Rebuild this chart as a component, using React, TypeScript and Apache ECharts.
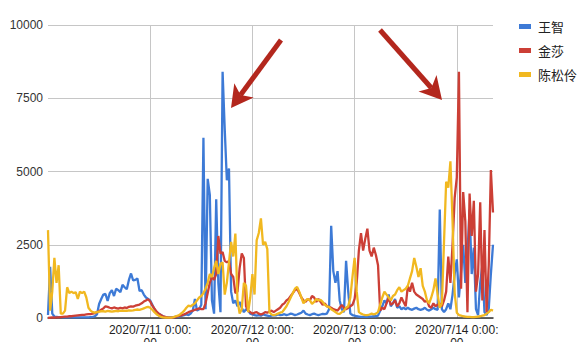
import React, { useEffect, useRef } from "react";
import * as echarts from "echarts";

// Series names (legend)
const seriesNames = ["王智", "金莎", "陈松伶"];
const seriesColors = ["#3d7ad6", "#cc3f36", "#f1b820"];

// Y axis ticks
const yTicks = [0, 2500, 5000, 7500, 10000];

// Values every 30 minutes from 2020/7/10 0:00:00
const wangZhi = [
  100, 1750, 150, 50, 40, 30, 30, 20, 20, 20,
  20, 20, 20, 20, 20, 20, 20, 20, 20, 20,
  30, 40, 60, 120, 480, 650, 800, 820, 580, 850,
  950, 750, 1000, 950, 880, 1130, 1050, 980, 1300, 1520,
  1280, 1300, 1350, 920, 950, 800, 700, 650, 600, 450,
  300, 200, 150, 100, 60, 30, 30, 20, 20, 30,
  40, 50, 60, 80, 100, 120, 100, 150, 250, 650,
  250, 300, 450, 6150, 300, 4750, 4200, 600, 150, 4050,
  1200, 200, 8400, 6450, 4700, 5100, 900, 500, 600, 400,
  550, 350, 200, 300, 250, 150, 120, 100, 80, 100,
  80, 120, 100, 80, 60, 80, 100, 90, 120, 100,
  110, 130, 100, 120, 150, 130, 100, 120, 150, 180,
  250, 150, 120, 100, 130, 150, 120, 100, 120, 140,
  130, 150, 300, 3150, 1600, 1200, 1600, 600, 300, 200,
  1950, 900, 150, 100, 80, 60, 50, 40, 40, 50,
  40, 50, 50, 60, 60, 80, 250, 400, 600, 500,
  800, 400, 500, 650, 350, 400, 300, 350, 300, 350,
  300, 280, 320, 350, 300, 280, 300, 350, 280, 250,
  300, 350, 300, 280, 3700, 300, 200, 300, 500, 300,
  800, 1500, 2000, 700, 1600, 2500, 1200, 2200, 3700, 1500,
  2400, 300, 100, 1200, 1800, 200, 100, 300, 1500, 2500,
];

const jinSha = [
  0, 10, 20, 10, 20, 20, 30, 40, 50, 50,
  60, 60, 70, 80, 90, 100, 110, 110, 120, 130,
  130, 150, 170, 200, 230, 280, 330, 400, 380, 350,
  330, 360, 340, 320, 350, 330, 360, 340, 380, 400,
  390, 420, 440, 460, 500, 560, 600, 640, 560, 420,
  320, 220, 150, 100, 60, 40, 20, 10, 10, 20,
  40, 60, 80, 100, 130, 160, 200, 230, 250, 280,
  300, 330, 300, 300, 500, 850, 1200, 1400, 1300, 1500,
  2800, 2200, 2250, 1950, 1900, 1950, 1500, 1400, 850, 900,
  1700, 2200, 2050, 400, 250, 200, 150, 180, 200, 150,
  120, 150, 200, 180, 220, 250, 200, 250, 300, 350,
  450, 500, 600, 650, 750, 850, 950, 1000, 850, 700,
  600, 550, 650, 600, 750, 700, 550, 650, 550, 450,
  500, 400, 380, 350, 300, 280, 250, 350, 450, 350,
  300, 350, 400, 450, 650, 1200, 2300, 2900, 2300, 2700,
  3050, 2300, 2100, 2400, 2150, 1800, 250, 350, 300, 500,
  700, 450, 500, 600, 400, 500, 700, 550, 400, 1100,
  900, 1200, 900, 800, 750, 700, 650, 550, 600, 400,
  350, 500, 400, 450, 500, 400, 600, 900, 2100, 1200,
  2500, 4100, 4800, 8400, 1000, 4300, 3300, 200, 4250, 2800,
  4000, 900, 1500, 3950, 600, 3000, 200, 1800, 5050, 3600,
];

const chenSongLing = [
  3000, 250, 900, 2050, 1200, 1800, 150, 150, 250, 1050,
  850, 900, 850, 880, 650, 900, 850, 900, 700, 350,
  250, 200, 180, 200, 220, 230, 230, 220, 240, 230,
  220, 230, 240, 230, 250, 240, 250, 240, 260, 250,
  260, 280, 290, 280, 300, 330, 360, 380, 350, 280,
  200, 130, 80, 40, 20, 10, 10, 10, 10, 30,
  60, 80, 120, 180, 250, 350, 420, 400, 450, 500,
  600, 700, 750, 850, 1000, 1200, 1500, 1400, 1700, 1950,
  1500, 1850, 1900, 800, 1200, 1900, 2600, 2100, 2880, 600,
  150, 300, 1200, 1100, 200, 700, 1500, 800, 2650, 2900,
  3400, 2500, 2600, 2350, 200, 120, 100, 120, 150, 180,
  200, 300, 400, 550, 700, 850, 1000, 1060, 900, 700,
  500, 600, 650, 600, 480, 550, 650, 600, 620, 550,
  450, 400, 370, 300, 250, 200, 150, 140, 200, 250,
  350, 400, 700, 1400, 2050, 900, 200, 150, 120, 100,
  100, 120, 150, 120, 150, 200, 450, 700, 900, 800,
  700, 600, 750, 800, 950, 1050, 900, 950, 1000, 1100,
  1350, 1600, 2050, 1750, 1400, 1700, 1100, 900, 600, 500,
  700, 950, 1350, 800, 350, 500, 2600, 4650, 4450, 5350,
  3300, 850, 180, 100, 80, 60, 50, 40, 40, 30,
  30, 40, 50, 60, 80, 100, 150, 200, 280, 250,
];

// Category labels: 30-minute steps from 2020/7/10 0:00:00
const startDay = 10;
const stepMinutes = 30;
const stepsPerDay = 48;
const categories = wangZhi.map((_, i) => {
  const t = i * stepMinutes;
  const day = startDay + Math.floor(t / 1440);
  const h = Math.floor((t % 1440) / 60);
  const m = t % 60;
  return `2020/7/${day} ${h}:${String(m).padStart(2, "0")}:00`;
});

const isDayStart = (idx: number) => idx > 0 && idx % stepsPerDay === 0;

const arrowColor = "#b3271d";

export default function App() {
  const ref = useRef<HTMLDivElement>(null);
  useEffect(() => {
    if (!ref.current) return;
    const chart = echarts.init(ref.current, null, { renderer: "svg" });
    const font = "Liberation Sans, Arial, sans-serif";
    chart.setOption({
      animation: false,
      backgroundColor: "#ffffff",
      grid: { left: 48, right: 85, top: 25, bottom: 24, containLabel: false, outerBoundsMode: "none" },
      legend: {
        orient: "vertical",
        left: 514,
        top: 15,
        icon: "rect",
        itemWidth: 12,
        itemHeight: 5,
        itemGap: 11,
        data: seriesNames,
        textStyle: { fontSize: 13, color: "#222", fontFamily: "Noto Sans CJK SC, sans-serif", padding: [0, 0, 0, 2] },
      },
      xAxis: {
        type: "category",
        data: categories,
        boundaryGap: false,
        axisLine: { show: true, lineStyle: { color: "#333", width: 1.5 } },
        axisTick: { show: false },
        axisLabel: {
          interval: (idx: number) => isDayStart(idx),
          formatter: (v: string) => v.replace(/:00$/, ":\n00"),
          fontSize: 12,
          lineHeight: 13,
          color: "#222",
          fontFamily: font,
          margin: 5,
        },
        splitLine: {
          show: true,
          interval: (idx: number) => isDayStart(idx),
          lineStyle: { color: "#c6c6c6", width: 1 },
        },
      },
      yAxis: {
        type: "value",
        min: yTicks[0],
        max: yTicks[yTicks.length - 1],
        interval: yTicks[1] - yTicks[0],
        axisLine: { show: false },
        axisTick: { show: false },
        axisLabel: {
          fontSize: 12,
          color: "#333",
          fontFamily: font,
          margin: 5,
          formatter: (v: number) => String(v),
        },
        splitLine: { lineStyle: { color: "#c6c6c6", width: 1 } },
      },
      series: [wangZhi, jinSha, chenSongLing].map((d, k) => ({
        name: seriesNames[k],
        type: "line",
        data: d,
        symbol: "none",
        showSymbol: false,
        lineStyle: { width: 2.3, color: seriesColors[k] },
        itemStyle: { color: seriesColors[k] },
      })),
      graphic: [
        {
          type: "line",
          shape: { x1: 281, y1: 40, x2: 240.5, y2: 95.1 },
          style: { stroke: arrowColor, lineWidth: 5 },
          z: 100,
        },
        {
          type: "polygon",
          shape: { points: [[231, 108], [234.3, 83.2], [240.5, 95.1], [253.7, 97.4]] },
          style: { fill: arrowColor },
          z: 100,
        },
        {
          type: "line",
          shape: { x1: 380, y1: 30, x2: 431.4, y2: 88 },
          style: { stroke: arrowColor, lineWidth: 5 },
          z: 100,
        },
        {
          type: "polygon",
          shape: { points: [[442, 100], [436.5, 75], [431.4, 88], [418.5, 91.5]] },
          style: { fill: arrowColor },
          z: 100,
        },
      ],
    });
    return () => chart.dispose();
  }, []);
  return (
    <div
      ref={ref}
      style={{ position: "fixed", left: 0, top: 0, width: 578, height: 342, background: "#fff" }}
    />
  );
}
